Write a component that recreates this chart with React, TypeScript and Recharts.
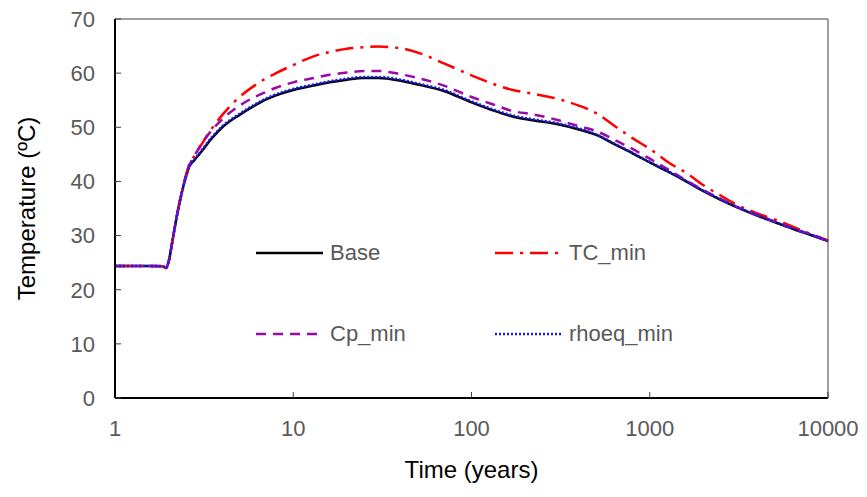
import React from 'react';
import {
    LineChart,
    Line,
    XAxis,
    YAxis,
    ReferenceLine,
    Legend
} from 'recharts';

// time axis (years, log scale)
const years = [
    1, 1.5, 1.85, 1.93, 2.0, 2.1, 2.2, 2.32, 2.45, 2.6, 2.8, 3, 3.5, 4, 5, 6, 7, 8, 10, 13, 16, 20, 25, 30,
    40, 50, 70, 100, 130, 170, 220, 300, 400, 500, 650, 800, 1000, 1300, 1600, 2000, 2500, 3000, 4000,
    5000, 6500, 8000, 10000
];

const baseTemp = [
    24.4, 24.4, 24.35, 24.0, 25.2, 29.0, 32.8, 36.6, 39.8, 42.6, 44.0, 45.2, 48.0, 50.0, 52.3, 53.9, 55.1,
    55.9, 56.9, 57.7, 58.3, 58.8, 59.1, 59.1, 58.6, 57.9, 56.7, 54.6, 53.2, 52.0, 51.3, 50.6, 49.6, 48.6,
    46.7, 45.2, 43.5, 41.6, 40.0, 38.2, 36.6, 35.4, 33.7, 32.5, 31.1, 30.1, 29.0
];

const tcMin = [
    24.4, 24.4, 24.35, 24.0, 25.2, 29.0, 32.8, 36.6, 40.0, 43.0, 44.8, 46.4, 49.8, 52.3, 55.6, 57.6, 59.0,
    60.0, 61.5, 63.1, 63.9, 64.5, 64.8, 64.9, 64.6, 63.8, 61.8, 59.6, 58.1, 56.9, 56.2, 55.3, 54.0, 52.6,
    50.0, 48.0, 46.0, 43.3, 41.6, 39.3, 37.4, 35.9, 34.1, 33.0, 31.5, 30.3, 29.1
];

const cpMin = [
    24.4, 24.4, 24.35, 24.0, 25.2, 29.0, 32.8, 36.6, 39.9, 42.8, 44.8, 46.5, 49.5, 51.5, 54.0, 55.5, 56.5,
    57.3, 58.3, 59.1, 59.7, 60.1, 60.4, 60.4, 59.8, 59.1, 57.7, 55.6, 54.3, 53.0, 52.4, 51.4, 50.2, 49.3,
    47.5, 46.0, 44.2, 42.0, 40.2, 38.4, 36.8, 35.5, 33.8, 32.6, 31.2, 30.2, 29.0
];

const rhoeqMin = [
    24.4, 24.4, 24.35, 24.0, 25.2, 29.0, 32.8, 36.6, 39.8, 42.6, 44.1, 45.4, 48.2, 50.2, 52.5, 54.1, 55.3,
    56.1, 57.1, 57.9, 58.5, 59.0, 59.3, 59.3, 58.8, 58.1, 56.9, 54.8, 53.4, 52.2, 51.5, 50.8, 49.8, 48.7,
    46.8, 45.3, 43.6, 41.7, 40.1, 38.3, 36.7, 35.5, 33.8, 32.6, 31.2, 30.2, 29.0
];

const xTicks = [1, 10, 100, 1000, 10000];
const yTicks = [0, 10, 20, 30, 40, 50, 60, 70];

const series = [
    { key: 'base', name: 'Base', color: '#000000', dash: undefined },
    { key: 'tc', name: 'TC_min', color: '#ff0000', dash: '18 7 3 7' },
    { key: 'cp', name: 'Cp_min', color: '#9b0aa6', dash: '10 7' },
    { key: 'rho', name: 'rhoeq_min', color: '#1a1aff', dash: '2 2' }
];

const data = years.map((t, i) => ({
    t,
    base: baseTemp[i],
    tc: tcMin[i],
    cp: cpMin[i],
    rho: rhoeqMin[i]
}));

const FONT = '"Liberation Sans", Arial, sans-serif';

const LegendBox = () => (
    <div style={{ display: 'grid', gridTemplateColumns: '239px 239px', rowGap: 55, fontFamily: FONT }}>
        {series.map((s) => (
            <div key={s.key} style={{ display: 'flex', alignItems: 'center', height: 26 }}>
                <svg width={70} height={10}>
                    <line x1={0} y1={5} x2={67} y2={5} stroke={s.color} strokeWidth={2.5} strokeDasharray={s.dash} />
                </svg>
                <span style={{ fontSize: 22, color: '#595959', marginLeft: 4 }}>{s.name}</span>
            </div>
        ))}
    </div>
);

export default function App() {
    return (
        <div style={{ position: 'absolute', left: 0, top: 0, width: 867, height: 497, background: '#fff' }}>
            <LineChart width={867} height={497} data={data} margin={{ top: 19, right: 39, left: 0, bottom: 0 }}>
                <XAxis
                    dataKey="t"
                    type="number"
                    scale="log"
                    domain={[1, 10000]}
                    ticks={xTicks}
                    interval={0}
                    height={99}
                    axisLine={{ stroke: '#000', strokeWidth: 2 }}
                    tickLine={{ stroke: '#404040' }}
                    tickSize={-6}
                    tickMargin={28}
                    tick={{ fill: '#595959', fontSize: 22, fontFamily: FONT }}
                    label={{ value: 'Time (years)', position: 'insideBottom', offset: 19, fill: '#000', fontSize: 24, fontFamily: FONT }}
                />
                <YAxis
                    type="number"
                    domain={[0, 70]}
                    ticks={yTicks}
                    interval={0}
                    width={115}
                    axisLine={{ stroke: '#000', strokeWidth: 2 }}
                    tickLine={{ stroke: '#404040' }}
                    tickSize={-6}
                    tickMargin={26}
                    tick={{ fill: '#595959', fontSize: 22, fontFamily: FONT }}
                    label={{ value: 'Temperature (ºC)', angle: -90, position: 'center', dx: -31, fill: '#000', fontSize: 24, fontFamily: FONT }}
                />
                <ReferenceLine y={70} stroke="#808080" strokeWidth={1.5} />
                <ReferenceLine x={10000} stroke="#808080" strokeWidth={1.5} />
                <Legend
                    layout="horizontal"
                    verticalAlign="middle"
                    align="center"
                    content={<LegendBox />}
                    wrapperStyle={{ position: 'absolute', left: 256, top: 240, width: 480, height: 110 }}
                />
                {series.map((s) => (
                    <Line
                        key={s.key}
                        dataKey={s.key}
                        name={s.name}
                        type="monotone"
                        stroke={s.color}
                        strokeWidth={2.5}
                        strokeDasharray={s.dash}
                        dot={false}
                        isAnimationActive={false}
                    />
                ))}
            </LineChart>
        </div>
    );
}
